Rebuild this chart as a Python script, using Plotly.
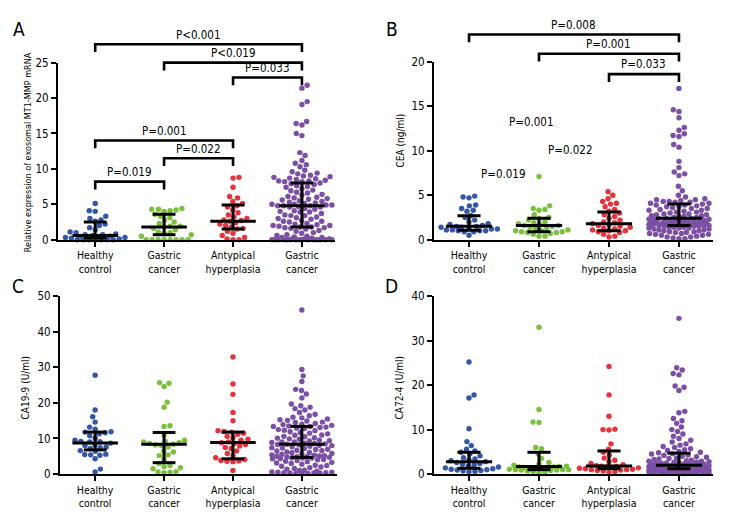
import numpy as np
import plotly.graph_objects as go

# The page body keeps the browser's default 8px margin, so the figure is sized to fit
# the 732x528 window and all geometry below is expressed in window pixels.
WIN_W, WIN_H = 732, 528
OFF = 8
W, H = WIN_W - 2 * OFF, WIN_H - 2 * OFF
FONT = "Liberation Sans Narrow, DejaVu Sans Condensed, Roboto, sans-serif"

categories = ["Healthy<br>control", "Gastric<br>cancer", "Antypical<br>hyperplasia", "Gastric<br>cancer"]
group_colors = ["#3456a5", "#7bbf3f", "#e3343e", "#7b50a4"]

# ---------------- Panel A: exosomal MT1-MMP mRNA ----------------
a_healthy = [5.1, 4.1, 4.0, 3.3, 3.0, 2.8, 2.6, 2.2, 2.0, 1.7, 1.4, 1.1, 1.0, 0.8, 0.7,
             0.7, 0.6, 0.5, 0.4, 0.3, 0.3, 0.2, 0.1, 0.0, 0.0, 0.0, 0.0, 0.0, 0.0, 0.0]
a_gastric1 = [4.4, 4.3, 4.3, 4.2, 4.1, 4.0, 3.6, 3.3, 3.1, 2.7, 2.5, 2.3, 1.9, 1.9, 1.8,
              1.6, 1.4, 1.1, 1.0, 0.9, 0.7, 0.5, 0.0, 0.0, 0.0, 0.0, 0.0, 0.0, 0.0, 0.0]
a_atypical = [8.8, 8.7, 7.4, 6.1, 5.9, 5.4, 5.1, 4.8, 4.6, 4.2, 3.8, 3.5, 3.2, 3.0, 2.8,
              2.7, 2.6, 2.4, 2.2, 2.0, 1.8, 1.6, 1.5, 1.2, 0.9, 0.6, 0.3, 0.1, 0.0, 0.0]
a_gastric2 = [21.8, 21.4, 19.5, 19.1, 16.7, 16.4, 16.2, 15.0, 14.7, 12.3, 11.9, 11.2, 10.8, 10.6, 10.3,
              9.8, 9.6, 9.4, 9.3, 9.1, 9.0, 8.9, 8.8, 8.7, 8.6, 8.5, 8.4, 8.3, 8.3, 8.2, 8.2,
              8.0, 7.9, 7.8, 7.6, 7.5, 7.4, 7.2, 7.0, 6.9, 6.7, 6.6, 6.4, 6.3, 6.1, 6.0, 5.9,
              5.8, 5.7, 5.6, 5.5, 5.4, 5.3, 5.2, 5.1, 5.0, 5.0, 4.9, 4.9, 4.8, 4.8, 4.8,
              4.7, 4.6, 4.6, 4.4, 4.3, 4.1, 4.0, 3.9, 3.9, 3.7, 3.5, 3.4, 3.4, 3.2, 3.1, 3.0,
              2.9, 2.7, 2.6, 2.6, 2.5, 2.3, 2.2, 2.1, 2.0, 2.0, 1.9, 1.8, 1.8, 1.7, 1.7,
              1.6, 1.5, 1.3, 1.2, 1.0, 0.9, 0.7, 0.6, 0.5, 0.4, 0.3, 0.3, 0.2, 0.1, 0.1, 0.1,
              0.0, 0.0, 0.0, 0.0, 0.0, 0.0, 0.0, 0.0, 0.0, 0.0, 0.0, 0.0, 0.0, 0.0, 0.0]
a_median = [0.6, 1.8, 2.6, 4.8]
a_q1 = [0.2, 0.7, 1.5, 1.8]
a_q3 = [2.5, 3.6, 4.9, 8.0]

# ---------------- Panel B: CEA ----------------
b_healthy = [4.9, 4.8, 4.7, 3.9, 3.8, 3.5, 3.3, 3.2, 2.7, 2.5, 2.2, 2.0, 1.8, 1.7, 1.6,
             1.5, 1.5, 1.4, 1.4, 1.3, 1.2, 1.2, 1.1, 1.1, 1.0, 1.0, 1.0, 0.9, 0.9, 0.5]
b_gastric1 = [7.1, 3.8, 3.5, 3.4, 3.3, 2.8, 2.5, 2.4, 2.2, 2.0, 1.9, 1.8, 1.7, 1.6, 1.6,
              1.5, 1.4, 1.3, 1.2, 1.1, 1.0, 1.0, 0.9, 0.9, 0.8, 0.8, 0.7, 0.6, 0.4, 0.4]
b_atypical = [5.4, 5.0, 4.6, 4.3, 4.1, 4.0, 3.7, 3.4, 3.2, 3.0, 2.8, 2.6, 2.4, 2.2, 2.0, 1.9,
              1.8, 1.7, 1.6, 1.5, 1.4, 1.3, 1.2, 1.1, 1.0, 1.0, 0.9, 0.8, 0.6, 0.4, 0.3]
b_gastric2 = [17.0, 14.6, 14.4, 13.7, 12.6, 12.3, 11.9, 11.7, 11.6, 10.7, 10.4, 8.8, 8.1, 7.6, 7.4, 7.2,
              6.0, 5.5, 5.0, 4.8, 4.6, 4.5, 4.5, 4.4, 4.3, 4.3, 4.2, 4.2, 4.1, 4.1, 4.0,
              3.9, 3.9, 3.8, 3.7, 3.7, 3.6, 3.5, 3.5, 3.4, 3.3, 3.3, 3.2, 3.1, 3.1, 3.0, 2.9,
              2.9, 2.8, 2.8, 2.7, 2.7, 2.6, 2.6, 2.5, 2.5, 2.4, 2.4, 2.4, 2.3, 2.3, 2.3,
              2.2, 2.2, 2.2, 2.1, 2.1, 2.1, 2.0, 2.0, 2.0, 2.0, 1.9, 1.9, 1.9, 1.9, 1.8, 1.8,
              1.8, 1.8, 1.8, 1.7, 1.7, 1.7, 1.7, 1.7, 1.6, 1.6, 1.6, 1.6, 1.6, 1.6, 1.6,
              1.5, 1.5, 1.5, 1.4, 1.4, 1.4, 1.3, 1.3, 1.3, 1.2, 1.2, 1.1, 1.1, 1.0, 1.0, 0.9,
              0.9, 0.8, 0.8, 0.7, 0.7, 0.6, 0.6, 0.5, 0.5, 0.4, 0.3, 0.3, 0.2, 0.1, 0.1]
b_median = [1.5, 1.6, 1.8, 2.4]
b_q1 = [1.05, 0.9, 1.0, 1.6]
b_q3 = [2.7, 2.4, 3.1, 4.0]

# ---------------- Panel C: CA19-9 ----------------
c_healthy = [27.8, 18.0, 16.1, 14.6, 13.2, 12.6, 11.9, 11.8, 11.6, 11.3, 10.8, 10.1, 9.5, 9.2, 9.1, 9.0,
             8.7, 8.2, 8.0, 7.6, 7.4, 7.2, 6.6, 6.4, 5.6, 5.5, 5.4, 5.3, 4.3, 1.4, 0.6]
c_gastric1 = [25.7, 25.5, 24.6, 20.2, 18.8, 13.6, 13.4, 11.0, 9.5, 9.2, 9.0, 8.8, 8.6, 8.4, 8.2, 8.0,
              7.6, 6.5, 6.2, 5.4, 5.2, 4.2, 3.0, 2.4, 2.1, 1.8, 1.5, 0.7, 0.6, 0.5, 0.4]
c_atypical = [32.9, 25.3, 22.4, 17.3, 15.0, 12.2, 12.0, 11.8, 11.5, 11.2, 10.6, 10.2, 9.8, 9.5, 9.0, 8.8,
              8.6, 8.3, 7.9, 7.5, 7.2, 6.5, 5.8, 5.2, 4.6, 4.1, 3.8, 3.7, 3.6, 3.5, 1.0]
c_gastric2 = [46.1, 29.4, 27.6, 26.0, 23.8, 23.5, 22.5, 21.4, 19.7, 19.2, 18.8, 18.4, 18.0, 17.3, 16.8, 16.4,
              16.0, 15.8, 15.5, 15.3, 15.1, 14.9, 14.6, 14.5, 14.2, 14.0, 13.9, 13.7, 13.5, 13.4, 13.4,
              13.2, 13.1, 12.9, 12.8, 12.5, 12.3, 12.2, 11.9, 11.6, 11.5, 11.3, 11.0, 10.9, 10.6, 10.5, 10.2,
              10.1, 9.9, 9.8, 9.5, 9.4, 9.3, 9.0, 9.0, 8.9, 8.7, 8.6, 8.5, 8.4, 8.3, 8.2,
              8.1, 8.0, 7.8, 7.7, 7.4, 7.3, 7.2, 7.0, 6.9, 6.7, 6.6, 6.5, 6.2, 6.1, 6.0, 5.8,
              5.7, 5.6, 5.4, 5.3, 5.2, 5.1, 5.0, 4.9, 4.9, 4.8, 4.7, 4.6, 4.5, 4.5, 4.4,
              4.3, 4.1, 4.0, 3.8, 3.6, 3.5, 3.3, 3.1, 3.0, 2.8, 2.5, 2.4, 2.2, 2.0, 1.8, 1.6,
              1.4, 1.1, 1.0, 0.8, 0.6, 0.5, 0.5, 0.4, 0.4, 0.3, 0.3, 0.3, 0.2, 0.2, 0.2]
c_median = [8.7, 8.4, 8.9, 8.4]
c_q1 = [6.8, 3.2, 4.3, 4.7]
c_q3 = [11.8, 11.7, 11.8, 13.4]

# ---------------- Panel D: CA72-4 ----------------
d_healthy = [25.2, 17.8, 17.1, 10.2, 7.3, 6.4, 5.6, 5.2, 4.9, 4.5, 4.1, 3.7, 3.4, 3.2, 3.0, 2.8,
             2.6, 2.4, 2.2, 2.0, 1.8, 1.6, 1.4, 1.2, 1.1, 1.0, 0.9, 0.8, 0.7, 0.6, 0.5]
d_gastric1 = [33.0, 14.5, 11.7, 11.6, 6.0, 5.7, 4.6, 3.5, 2.6, 2.3, 2.0, 1.8, 1.7, 1.6, 1.6, 1.5,
              1.5, 1.4, 1.3, 1.2, 1.1, 1.0, 1.0, 1.0, 0.9, 0.9, 0.8, 0.7, 0.6, 0.4, 0.2]
d_atypical = [24.2, 17.8, 13.0, 10.1, 10.0, 9.9, 6.8, 5.6, 4.9, 4.3, 3.6, 3.1, 2.8, 2.4, 2.1, 1.9,
              1.8, 1.7, 1.6, 1.5, 1.4, 1.3, 1.2, 1.1, 1.0, 1.0, 0.9, 0.8, 0.7, 0.5, 0.3]
d_gastric2 = [35.0, 23.9, 23.4, 22.6, 22.3, 19.8, 19.5, 18.8, 14.1, 13.8, 12.5, 12.0, 11.4, 10.6, 10.0, 9.6,
              9.0, 8.5, 8.0, 7.6, 7.2, 6.8, 6.5, 6.2, 6.0, 5.7, 5.5, 5.3, 5.1, 4.9, 4.8,
              4.6, 4.5, 4.3, 4.2, 4.0, 3.9, 3.8, 3.6, 3.5, 3.4, 3.3, 3.1, 3.0, 2.9, 2.9, 2.8,
              2.7, 2.6, 2.6, 2.5, 2.4, 2.4, 2.3, 2.3, 2.2, 2.2, 2.1, 2.1, 2.1, 2.0, 2.0,
              2.0, 1.9, 1.9, 1.9, 1.8, 1.8, 1.8, 1.7, 1.7, 1.7, 1.6, 1.6, 1.6, 1.5, 1.5, 1.5,
              1.4, 1.4, 1.4, 1.3, 1.3, 1.3, 1.2, 1.2, 1.2, 1.1, 1.1, 1.1, 1.0, 1.0, 1.0,
              0.9, 0.9, 0.9, 0.9, 0.8, 0.8, 0.8, 0.8, 0.7, 0.7, 0.7, 0.7, 0.6, 0.6, 0.6, 0.6,
              0.5, 0.5, 0.5, 0.5, 0.4, 0.4, 0.4, 0.4, 0.3, 0.3, 0.3, 0.2, 0.2, 0.1, 0.1]
d_median = [2.8, 1.7, 1.8, 2.0]
d_q1 = [1.3, 1.0, 1.2, 1.2]
d_q3 = [4.9, 4.9, 5.2, 4.7]

# ---------------- Statistics annotations ----------------
a_brackets = [(0, 3, 27.6, "P<0.001"), (1, 3, 25.0, "P<0.019"), (2, 3, 22.9, "P=0.033"),
              (0, 2, 14.0, "P=0.001"), (1, 2, 11.5, "P=0.022"), (0, 1, 8.2, "P=0.019")]
b_brackets = [(0, 3, 23.06, "P=0.008"), (1, 3, 20.9, "P=0.001"), (2, 3, 18.6, "P=0.033")]
b_loose_labels = [(0.9, 13.2, "P=0.001"), (1.45, 10.05, "P=0.022"), (0.5, 7.4, "P=0.019")]

# ---------------- Layout geometry (window pixels) ----------------
panels = {
    "A": dict(ax="", xpx=(58, 335), xr=(-0.54, 3.48), ypx=(239, 57), yr=(0, 25), dtick=5,
              title="Relative expression of exosomal MT1-MMP mRNA", tsize=9, tpos=(28, 149), letter=(19, 22)),
    "B": dict(ax="2", xpx=(434, 713), xr=(-0.5, 3.486), ypx=(239, 56), yr=(0, 20), dtick=5,
              title="CEA (ng/ml)", tsize=10, tpos=(400, 137), letter=(392, 22)),
    "C": dict(ax="3", xpx=(60, 337), xr=(-0.51, 3.51), ypx=(480, 297), yr=(0, 50), dtick=10,
              title="CA19-9 (U/ml)", tsize=10, tpos=(26, 391), letter=(18, 287)),
    "D": dict(ax="4", xpx=(434, 713), xr=(-0.5, 3.486), ypx=(480, 297), yr=(0, 40), dtick=10,
              title="CA72-4 (U/ml)", tsize=10, tpos=(400, 391), letter=(391, 287)),
}
panel_groups = {
    "A": [a_healthy, a_gastric1, a_atypical, a_gastric2],
    "B": [b_healthy, b_gastric1, b_atypical, b_gastric2],
    "C": [c_healthy, c_gastric1, c_atypical, c_gastric2],
    "D": [d_healthy, d_gastric1, d_atypical, d_gastric2],
}
panel_stats = {
    "A": (a_median, a_q1, a_q3), "B": (b_median, b_q1, b_q3),
    "C": (c_median, c_q1, c_q3), "D": (d_median, d_q1, d_q3),
}


def px_x(px):
    return (px - OFF) / W


def px_y(py):
    return 1 - (py - OFF) / H


def scales(p):
    sx = (p["xpx"][1] - p["xpx"][0]) / (p["xr"][1] - p["xr"][0])
    sy = (p["ypx"][0] - p["ypx"][1]) / (p["yr"][1] - p["yr"][0])
    return sx, sy


def to_px(p, x, y):
    sx, sy = scales(p)
    return p["xpx"][0] + (x - p["xr"][0]) * sx, p["ypx"][0] - (y - p["yr"][0]) * sy


def swarm(values, sy, d=6.0, maxw=30.0):
    vals = np.asarray(values, dtype=float)
    order = np.argsort(vals, kind="stable")
    placed = []
    offs = np.zeros(len(vals))
    for idx in order:
        yp = vals[idx] * sy
        neigh = [(xo, yo) for xo, yo in placed if abs(yo - yp) < d]
        cands = [0.0]
        for xo, yo in neigh:
            dx = np.sqrt(max(d * d - (yo - yp) ** 2, 0.0))
            cands += [xo + dx + 1e-6, xo - dx - 1e-6]
        cands.sort(key=lambda c: (abs(c), -c if len(placed) % 2 else c))
        chosen = None
        for c in cands:
            if abs(c) > maxw:
                break
            if all((c - xo) ** 2 + (yo - yp) ** 2 >= d * d - 1e-6 for xo, yo in neigh):
                chosen = c
                break
        if chosen is None:
            grid = np.linspace(-maxw, maxw, 25)
            chosen = max(grid, key=lambda g: min([(g - xo) ** 2 + (yo - yp) ** 2 for xo, yo in neigh] or [1e9]))
        placed.append((chosen, yp))
        offs[idx] = chosen
    return offs


fig = go.Figure()
shapes = []
annotations = []
layout_axes = {}

for name, p in panels.items():
    ax = p["ax"]
    xa, ya = "x" + ax, "y" + ax
    sx, sy = scales(p)
    # dots
    for gi, vals in enumerate(panel_groups[name]):
        offs = swarm(vals, sy)
        fig.add_trace(go.Scatter(
            x=gi + offs / sx, y=vals, mode="markers", xaxis=xa, yaxis=ya,
            marker=dict(size=5.4, color=group_colors[gi], line=dict(width=0)),
            cliponaxis=False, showlegend=False, hoverinfo="y"))
    # median + IQR
    med, q1, q3 = panel_stats[name]
    ex, ey = [], []
    for gi in range(4):
        ex += [gi - 0.33, gi + 0.33, None, gi - 0.165, gi + 0.165, None,
               gi - 0.165, gi + 0.165, None, gi, gi, None]
        ey += [med[gi], med[gi], None, q1[gi], q1[gi], None, q3[gi], q3[gi], None, q1[gi], q3[gi], None]
    fig.add_trace(go.Scatter(x=ex, y=ey, mode="lines", xaxis=xa, yaxis=ya,
                             line=dict(color="black", width=3), showlegend=False, hoverinfo="skip",
                             cliponaxis=False))
    # axes
    xkey, ykey = "xaxis" + ax, "yaxis" + ax
    layout_axes[xkey] = dict(
        domain=[px_x(p["xpx"][0]), px_x(p["xpx"][1])], range=list(p["xr"]), anchor=ya,
        tickvals=[0, 1, 2, 3], ticktext=categories, ticks="outside", ticklen=5, tickwidth=2,
        tickcolor="black", showline=True, linewidth=2, linecolor="black", showgrid=False,
        zeroline=False, tickfont=dict(family=FONT, size=10.5, color="black"), fixedrange=True)
    layout_axes[ykey] = dict(
        domain=[px_y(p["ypx"][0]), px_y(p["ypx"][1])], range=list(p["yr"]), anchor=xa,
        dtick=p["dtick"], tick0=0, ticks="outside", ticklen=5, tickwidth=2, tickcolor="black",
        showline=True, linewidth=2, linecolor="black", showgrid=False, zeroline=False,
        tickfont=dict(family=FONT, size=11.5, color="black"), fixedrange=True)
    # y title & panel letter
    annotations.append(dict(text=p["title"], x=px_x(p["tpos"][0]), y=px_y(p["tpos"][1]),
                            xref="paper", yref="paper", textangle=-90, showarrow=False,
                            xanchor="center", yanchor="middle",
                            font=dict(family=FONT, size=p["tsize"], color="black")))
    annotations.append(dict(text=name, x=px_x(p["letter"][0]), y=px_y(p["letter"][1]),
                            xref="paper", yref="paper", showarrow=False,
                            xanchor="center", yanchor="middle",
                            font=dict(family=FONT, size=19, color="black")))


def add_brackets(p, brackets):
    for i, j, level, label in brackets:
        xi, ytop = to_px(p, i, level)
        xj, _ = to_px(p, j, level)
        ydrop = ytop + 8
        path = "M {:.4f},{:.4f} L {:.4f},{:.4f} L {:.4f},{:.4f} L {:.4f},{:.4f}".format(
            px_x(xi), px_y(ydrop), px_x(xi), px_y(ytop), px_x(xj), px_y(ytop), px_x(xj), px_y(ydrop))
        shapes.append(dict(type="path", path=path, xref="paper", yref="paper",
                           line=dict(color="black", width=2.6)))
        annotations.append(dict(text=label, x=px_x((xi + xj) / 2), y=px_y(ytop - 10),
                                xref="paper", yref="paper", showarrow=False,
                                xanchor="center", yanchor="middle",
                                font=dict(family=FONT, size=11.5, color="black")))


add_brackets(panels["A"], a_brackets)
add_brackets(panels["B"], b_brackets)
for x, y, label in b_loose_labels:
    px, py = to_px(panels["B"], x, y)
    annotations.append(dict(text=label, x=px_x(px), y=px_y(py), xref="paper", yref="paper",
                            showarrow=False, xanchor="center", yanchor="middle",
                            font=dict(family=FONT, size=11.5, color="black")))

fig.update_layout(
    width=W, height=H, margin=dict(l=0, r=0, t=0, b=0),
    paper_bgcolor="white", plot_bgcolor="white",
    shapes=shapes, annotations=annotations, showlegend=False,
    font=dict(family=FONT, color="black"),
    **layout_axes)

fig.write_html("out.html")
